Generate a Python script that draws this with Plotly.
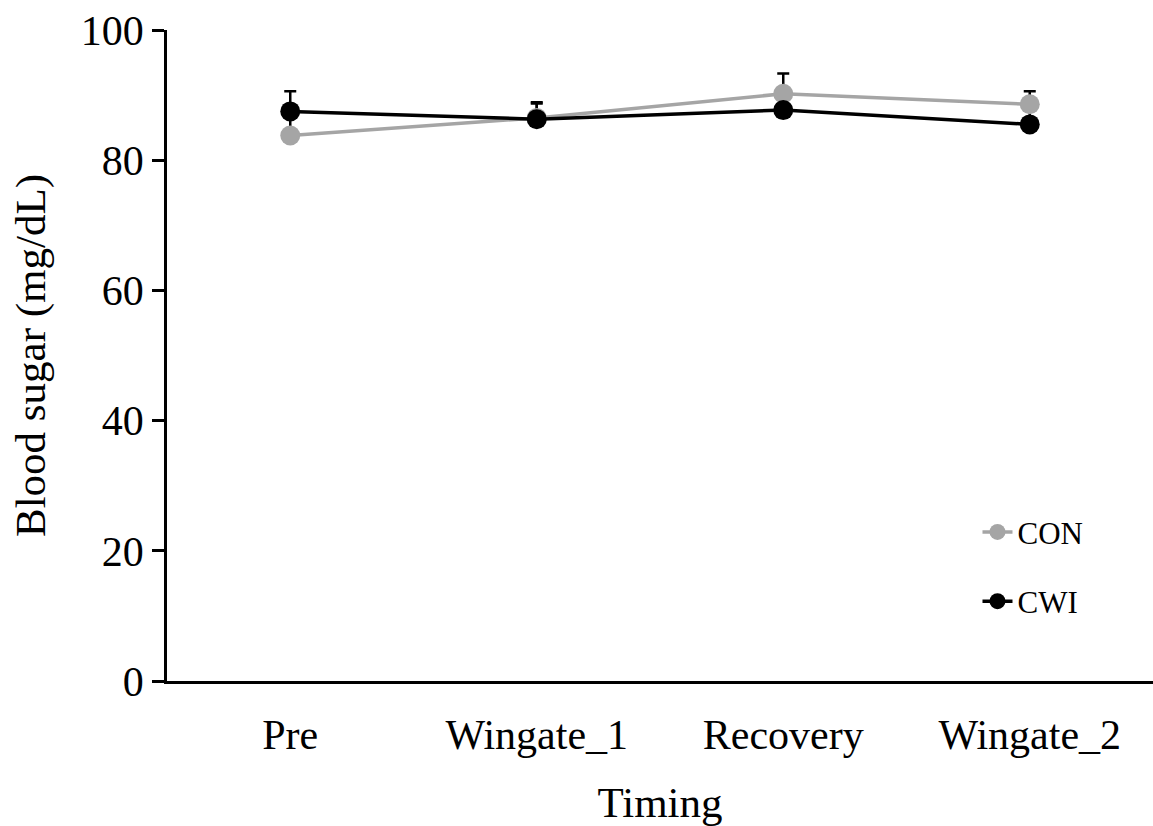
import plotly.graph_objects as go

# Blood sugar across the test timeline, mean with upward SD bars
timing = ["Pre", "Wingate_1", "Recovery", "Wingate_2"]
con_mean = [83.8, 86.5, 90.2, 88.6]
con_sd = [3.0, 2.2, 3.1, 2.0]
cwi_mean = [87.5, 86.3, 87.7, 85.5]
cwi_sd = [3.1, 2.6, 2.0, 2.5]
y_ticks = [0, 20, 40, 60, 80, 100]

FONT = "Liberation Serif, Times New Roman, serif"
GREY = "#A5A5A5"
BLACK = "#000000"

fig = go.Figure()

# error bars sit underneath every marker, so draw them first
for mean, sd in ((con_mean, con_sd), (cwi_mean, cwi_sd)):
    fig.add_trace(go.Scatter(
        x=timing, y=mean, mode="markers",
        marker=dict(size=1, opacity=0),
        error_y=dict(type="data", array=sd, symmetric=False,
                     arrayminus=[0] * len(sd),
                     color=BLACK, thickness=2.5, width=6),
        showlegend=False, hoverinfo="skip",
    ))

fig.add_trace(go.Scatter(
    x=timing, y=con_mean, mode="lines+markers", name="CON",
    legendgroup="con",
    line=dict(color=GREY, width=3.5),
    marker=dict(color=GREY, size=20),
))
fig.add_trace(go.Scatter(
    x=timing, y=cwi_mean, mode="lines+markers", name="CWI",
    legendgroup="cwi",
    line=dict(color=BLACK, width=3.5),
    marker=dict(color=BLACK, size=20),
))

fig.update_layout(
    width=1153, height=826,
    margin=dict(l=167, r=0, t=30, b=145),
    paper_bgcolor="white", plot_bgcolor="white",
    font=dict(family=FONT, size=42, color="black"),
    legend=dict(
        x=0.822, y=0.27, xanchor="left", yanchor="top",
        font=dict(size=31), tracegroupgap=26,
        bgcolor="rgba(0,0,0,0)",
    ),
)

fig.update_xaxes(
    type="category", range=[-0.5, 3.5],
    showline=True, linecolor=BLACK, linewidth=2.5,
    showgrid=False, zeroline=False, ticks="",
    ticklabelstandoff=15,
    title=dict(text="Timing", standoff=30, font=dict(size=43)),
)
fig.update_yaxes(
    range=[0, 100], tickvals=y_ticks,
    showline=True, linecolor=BLACK, linewidth=2.5,
    showgrid=False, zeroline=False,
    ticks="outside", ticklen=12, tickwidth=2.5, tickcolor=BLACK,
    title=dict(text="Blood sugar (mg/dL)", standoff=22, font=dict(size=43)),
)

fig.write_html("out.html")
